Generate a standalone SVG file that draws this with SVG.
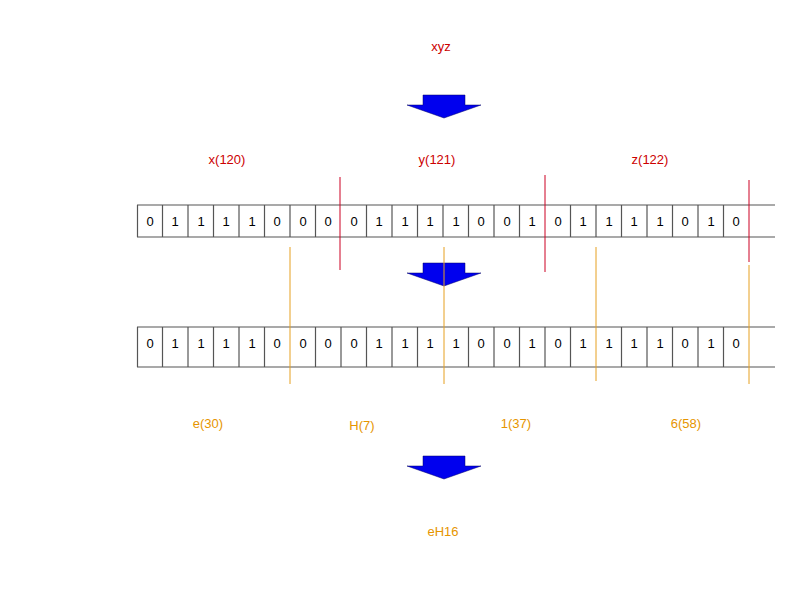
<svg xmlns="http://www.w3.org/2000/svg" width="800" height="600" viewBox="0 0 800 600">
<style>
text{font-family:"Liberation Sans",Arial,sans-serif;font-size:13px;text-anchor:middle}
.r{fill:#cc0000}.o{fill:#e69500}
.cell{stroke:#555;stroke-width:1.2;fill:none}
.red{stroke:#cc0022;stroke-width:1}
.or{stroke:#e6a020;stroke-width:1}
.arrow{fill:#0000ee;stroke:#000066;stroke-width:0.5}
.b{fill:#000;font-size:12px}
</style>
<defs>
<polygon id="arr" class="arrow" points="-21,0 21,0 21,10 37,10 0,23 -37,10 -21,10"/>
</defs>
<rect width="800" height="600" fill="#fff"/>
<g id="titles">
<text class="r" x="441" y="51">xyz</text>
<text class="r" x="227" y="164">x(120)</text>
<text class="r" x="437" y="164">y(121)</text>
<text class="r" x="650" y="164">z(122)</text>
<text class="o" x="208" y="428">e(30)</text>
<text class="o" x="362" y="430">H(7)</text>
<text class="o" x="516" y="428">1(37)</text>
<text class="o" x="686" y="428">6(58)</text>
<text class="o" x="443" y="536">eH16</text>
</g>
<g id="arrows">
<use href="#arr" x="444" y="95"/>
<use href="#arr" x="444" y="263"/>
<use href="#arr" x="444" y="456"/>
</g>
<g id="row1">
<line class="cell" x1="137" y1="205" x2="775" y2="205"/>
<line class="cell" x1="137" y1="237" x2="775" y2="237"/>
<g class="cell">
<line x1="137.5" y1="205" x2="137.5" y2="237"/><line x1="162.5" y1="205" x2="162.5" y2="237"/><line x1="188" y1="205" x2="188" y2="237"/><line x1="213.5" y1="205" x2="213.5" y2="237"/><line x1="239" y1="205" x2="239" y2="237"/><line x1="264.5" y1="205" x2="264.5" y2="237"/><line x1="290" y1="205" x2="290" y2="237"/><line x1="315.5" y1="205" x2="315.5" y2="237"/><line x1="366.5" y1="205" x2="366.5" y2="237"/><line x1="392" y1="205" x2="392" y2="237"/><line x1="417.5" y1="205" x2="417.5" y2="237"/><line x1="443" y1="205" x2="443" y2="237"/><line x1="468.5" y1="205" x2="468.5" y2="237"/><line x1="494" y1="205" x2="494" y2="237"/><line x1="519.5" y1="205" x2="519.5" y2="237"/><line x1="570.5" y1="205" x2="570.5" y2="237"/><line x1="596" y1="205" x2="596" y2="237"/><line x1="621.5" y1="205" x2="621.5" y2="237"/><line x1="647" y1="205" x2="647" y2="237"/><line x1="672.5" y1="205" x2="672.5" y2="237"/><line x1="698" y1="205" x2="698" y2="237"/><line x1="723.5" y1="205" x2="723.5" y2="237"/>
</g>
<g class="b">
<text x="150" y="226">0</text><text x="175" y="226">1</text><text x="201" y="226">1</text><text x="226" y="226">1</text><text x="252" y="226">1</text><text x="277" y="226">0</text><text x="303" y="226">0</text><text x="328" y="226">0</text><text x="354" y="226">0</text><text x="379" y="226">1</text><text x="405" y="226">1</text><text x="430" y="226">1</text><text x="456" y="226">1</text><text x="481" y="226">0</text><text x="507" y="226">0</text><text x="532" y="226">1</text><text x="558" y="226">0</text><text x="583" y="226">1</text><text x="609" y="226">1</text><text x="634" y="226">1</text><text x="660" y="226">1</text><text x="685" y="226">0</text><text x="711" y="226">1</text><text x="736" y="226">0</text>
</g>
</g>
<g id="row2">
<line class="cell" x1="137" y1="327" x2="775" y2="327"/>
<line class="cell" x1="137" y1="367" x2="775" y2="367"/>
<g class="cell">
<line x1="137.5" y1="327" x2="137.5" y2="367"/><line x1="162.5" y1="327" x2="162.5" y2="367"/><line x1="188" y1="327" x2="188" y2="367"/><line x1="213.5" y1="327" x2="213.5" y2="367"/><line x1="239" y1="327" x2="239" y2="367"/><line x1="264.5" y1="327" x2="264.5" y2="367"/><line x1="315.5" y1="327" x2="315.5" y2="367"/><line x1="341" y1="327" x2="341" y2="367"/><line x1="366.5" y1="327" x2="366.5" y2="367"/><line x1="392" y1="327" x2="392" y2="367"/><line x1="417.5" y1="327" x2="417.5" y2="367"/><line x1="468.5" y1="327" x2="468.5" y2="367"/><line x1="494" y1="327" x2="494" y2="367"/><line x1="519.5" y1="327" x2="519.5" y2="367"/><line x1="545" y1="327" x2="545" y2="367"/><line x1="570.5" y1="327" x2="570.5" y2="367"/><line x1="621.5" y1="327" x2="621.5" y2="367"/><line x1="647" y1="327" x2="647" y2="367"/><line x1="672.5" y1="327" x2="672.5" y2="367"/><line x1="698" y1="327" x2="698" y2="367"/><line x1="723.5" y1="327" x2="723.5" y2="367"/>
</g>
<g class="b">
<text x="150" y="348">0</text><text x="175" y="348">1</text><text x="201" y="348">1</text><text x="226" y="348">1</text><text x="252" y="348">1</text><text x="277" y="348">0</text><text x="303" y="348">0</text><text x="328" y="348">0</text><text x="354" y="348">0</text><text x="379" y="348">1</text><text x="405" y="348">1</text><text x="430" y="348">1</text><text x="456" y="348">1</text><text x="481" y="348">0</text><text x="507" y="348">0</text><text x="532" y="348">1</text><text x="558" y="348">0</text><text x="583" y="348">1</text><text x="609" y="348">1</text><text x="634" y="348">1</text><text x="660" y="348">1</text><text x="685" y="348">0</text><text x="711" y="348">1</text><text x="736" y="348">0</text>
</g>
</g>
<g id="connectors">
<line class="red" x1="340" y1="177" x2="340" y2="270"/>
<line class="red" x1="545" y1="175" x2="545" y2="272"/>
<line class="red" x1="749" y1="180" x2="749" y2="262"/>
<line class="or" x1="290" y1="247" x2="290" y2="384"/>
<line class="or" x1="444" y1="247" x2="444" y2="384"/>
<line class="or" x1="596" y1="247" x2="596" y2="381"/>
<line class="or" x1="749" y1="265" x2="749" y2="384"/>
</g>
</svg>
